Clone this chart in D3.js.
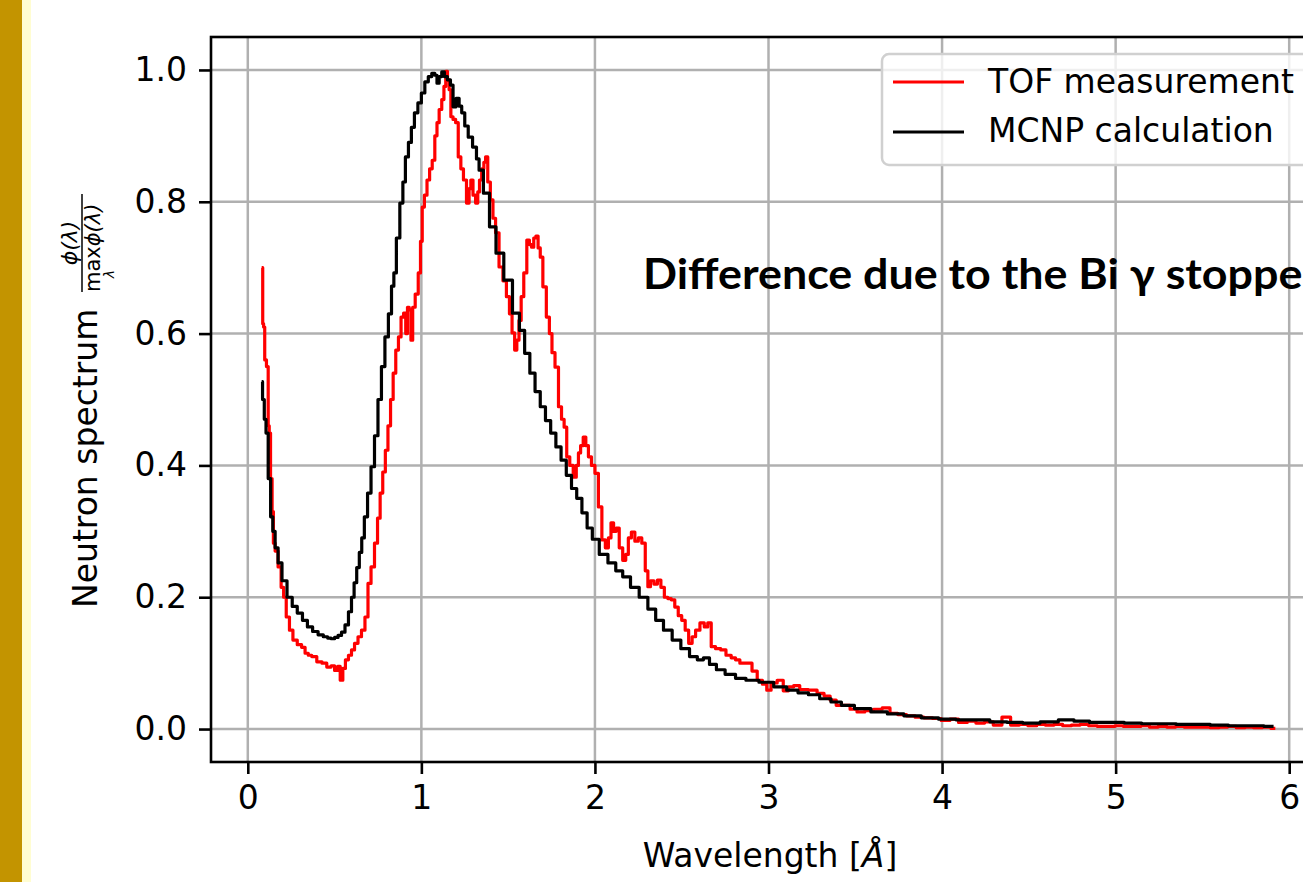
<!DOCTYPE html>
<meta charset="utf-8">
<style>
body { margin: 0; overflow: hidden; background: #fff; }
svg { display: block; font-family: 'DejaVu Sans', sans-serif; }
.grid line { stroke: #b0b0b0; stroke-width: 2.5; }
.axis text { font-family: 'DejaVu Sans', sans-serif; font-size: 33px; fill: #000; }
.axis line { stroke: #000; stroke-width: 2.6; }
.axis path { display: none; }
.series { fill: none; stroke-width: 3.2; stroke-linejoin: round; }
.lab { font-size: 33px; fill: #000; }
</style>
<body>
<div id="chart"></div>
<script src="https://cdn.jsdelivr.net/npm/d3@7"></script>
<script>
// TOF measurement (red) : wavelength [Å] and normalised spectrum
var tofLambda = [0.080,0.085,0.087,0.095,0.100,0.115,0.120,0.127,0.135,0.145,0.150,0.165,0.184,0.200,0.213,0.230,0.250,0.270,0.300,0.320,
  0.340,0.357,0.380,0.415,0.440,0.470,0.490,0.510,0.525,0.540,0.555,0.570,0.590,0.605,0.625,0.645,0.665,0.685,0.700,0.720,
  0.740,0.755,0.770,0.785,0.800,0.815,0.830,0.845,0.860,0.876,0.890,0.905,0.915,0.925,0.935,0.945,0.955,0.974,0.990,1.000,
  1.010,1.025,1.040,1.055,1.070,1.085,1.095,1.110,1.125,1.135,1.146,1.155,1.165,1.175,1.190,1.205,1.220,1.235,1.250,1.270,
  1.280,1.290,1.305,1.320,1.330,1.340,1.355,1.365,1.375,1.390,1.405,1.420,1.435,1.460,1.480,1.500,1.515,1.530,1.545,1.555,
  1.570,1.580,1.600,1.615,1.630,1.640,1.655,1.665,1.680,1.690,1.710,1.730,1.745,1.760,1.780,1.800,1.815,1.830,1.845,1.865,
  1.885,1.900,1.910,1.925,1.940,1.955,1.970,1.990,2.010,2.030,2.050,2.070,2.085,2.100,2.115,2.130,2.150,2.170,2.185,2.200,
  2.220,2.240,2.260,2.280,2.300,2.310,2.330,2.350,2.370,2.390,2.410,2.430,2.450,2.470,2.490,2.510,2.530,2.550,2.570,2.590,
  2.620,2.640,2.660,2.680,2.710,2.740,2.770,2.800,2.820,2.850,2.890,2.920,2.950,2.980,3.000,3.030,3.070,3.100,3.130,3.160,
  3.200,3.260,3.300,3.340,3.370,3.410,3.450,3.490,3.530,3.580,3.630,3.680,3.720,3.770,3.820,3.870,3.920,3.970,4.020,4.070,
  4.120,4.170,4.220,4.270,4.320,4.370,4.420,4.470,4.520,4.570,4.620,4.670,4.720,4.770,4.820,4.870,4.920,4.970,5.020,5.070,
  5.120,5.170,5.220,5.270,5.320,5.370,5.420,5.470,5.520,5.570,5.620,5.670,5.720,5.770,5.820,5.870,5.920];
var tofValue = [0.700,0.700,0.615,0.610,0.560,0.550,0.460,0.449,0.380,0.330,0.282,0.270,0.246,0.215,0.200,0.170,0.150,0.135,0.128,0.124,
  0.115,0.112,0.110,0.102,0.100,0.094,0.096,0.089,0.095,0.074,0.092,0.105,0.112,0.120,0.130,0.140,0.150,0.170,0.221,0.246,
  0.282,0.320,0.358,0.390,0.423,0.460,0.500,0.540,0.575,0.595,0.625,0.631,0.600,0.640,0.636,0.590,0.640,0.660,0.692,0.740,
  0.792,0.810,0.833,0.850,0.863,0.900,0.920,0.940,0.955,0.975,0.998,0.985,0.970,0.929,0.925,0.920,0.868,0.850,0.833,0.798,
  0.820,0.833,0.810,0.798,0.815,0.833,0.850,0.860,0.868,0.830,0.803,0.775,0.753,0.701,0.680,0.656,0.630,0.601,0.575,0.590,
  0.620,0.656,0.692,0.742,0.735,0.731,0.745,0.748,0.730,0.716,0.671,0.625,0.600,0.571,0.549,0.489,0.470,0.458,0.413,0.400,
  0.382,0.400,0.419,0.430,0.443,0.430,0.413,0.400,0.388,0.337,0.287,0.275,0.290,0.313,0.300,0.305,0.275,0.256,0.265,0.290,
  0.299,0.285,0.290,0.282,0.240,0.216,0.225,0.220,0.226,0.215,0.200,0.198,0.196,0.185,0.172,0.165,0.150,0.130,0.140,0.150,
  0.161,0.155,0.161,0.125,0.122,0.120,0.112,0.108,0.105,0.100,0.100,0.088,0.074,0.068,0.059,0.070,0.074,0.058,0.064,0.066,
  0.060,0.059,0.054,0.050,0.044,0.036,0.036,0.030,0.026,0.028,0.030,0.032,0.024,0.022,0.020,0.018,0.017,0.016,0.013,0.015,
  0.010,0.012,0.009,0.011,0.006,0.018,0.006,0.007,0.005,0.007,0.006,0.007,0.005,0.006,0.007,0.005,0.004,0.004,0.005,0.004,
  0.004,0.005,0.003,0.004,0.003,0.004,0.003,0.003,0.003,0.002,0.003,0.004,0.002,0.003,0.002,0.003,0.001];

// MCNP calculation (black)
var mcnpLambda = [0.080,0.090,0.100,0.110,0.125,0.138,0.150,0.165,0.184,0.210,0.242,0.270,0.300,0.330,0.357,0.390,0.420,0.450,0.470,0.490,
  0.510,0.530,0.550,0.570,0.590,0.605,0.620,0.635,0.650,0.663,0.680,0.700,0.720,0.740,0.760,0.780,0.800,0.820,0.836,0.847,
  0.865,0.887,0.900,0.916,0.935,0.950,0.970,0.990,1.010,1.030,1.050,1.070,1.085,1.095,1.110,1.125,1.140,1.160,1.175,1.190,
  1.210,1.225,1.240,1.260,1.280,1.310,1.325,1.340,1.375,1.410,1.450,1.500,1.550,1.580,1.610,1.640,1.670,1.700,1.730,1.760,
  1.790,1.820,1.850,1.880,1.910,1.940,1.970,2.000,2.050,2.100,2.140,2.180,2.230,2.280,2.330,2.370,2.420,2.470,2.520,2.570,
  2.610,2.640,2.680,2.720,2.780,2.840,2.900,2.990,3.070,3.140,3.200,3.260,3.330,3.390,3.450,3.540,3.640,3.730,3.830,3.930,
  4.030,4.130,4.220,4.330,4.420,4.510,4.620,4.720,4.800,4.900,5.000,5.100,5.200,5.300,5.400,5.490,5.600,5.700,5.800,5.910];
var mcnpValue = [0.527,0.500,0.470,0.449,0.380,0.322,0.300,0.275,0.252,0.225,0.200,0.186,0.176,0.165,0.155,0.148,0.143,0.140,0.138,0.137,
  0.139,0.142,0.147,0.158,0.178,0.200,0.222,0.245,0.268,0.290,0.322,0.358,0.398,0.445,0.500,0.550,0.595,0.630,0.672,0.692,
  0.745,0.798,0.830,0.868,0.890,0.913,0.935,0.950,0.965,0.982,0.990,0.995,0.992,0.980,0.990,0.997,0.990,0.985,0.977,0.944,
  0.957,0.945,0.935,0.915,0.898,0.883,0.865,0.848,0.813,0.762,0.722,0.681,0.631,0.605,0.570,0.540,0.512,0.489,0.468,0.449,
  0.428,0.408,0.385,0.365,0.350,0.328,0.305,0.288,0.265,0.252,0.240,0.231,0.215,0.200,0.182,0.165,0.150,0.135,0.122,0.110,
  0.105,0.108,0.098,0.090,0.083,0.077,0.074,0.071,0.064,0.059,0.055,0.052,0.046,0.041,0.036,0.031,0.026,0.023,0.020,0.017,
  0.015,0.014,0.014,0.011,0.010,0.009,0.011,0.014,0.012,0.010,0.010,0.009,0.008,0.008,0.007,0.007,0.006,0.005,0.005,0.004];

var xTicks = [0, 1, 2, 3, 4, 5, 6];
var yTicks = [0, 0.2, 0.4, 0.6, 0.8, 1.0];
var legendNames = ['TOF measurement', 'MCNP calculation'];
var legendColors = ['#ff0000', '#000000'];

var W = 1303, H = 882;
var pLeft = 211, pRight = 1326, pTop = 37, pBottom = 762;

var svg = d3.select('#chart').append('svg')
    .attr('width', W)
    .attr('height', H);

// slide border on the left
svg.append('rect').attr('x', 0).attr('y', 0).attr('width', 22).attr('height', H).attr('fill', '#c39400');
svg.append('rect').attr('x', 22).attr('y', 0).attr('width', 9).attr('height', H).attr('fill', '#fffdd2');

var x = d3.scaleLinear().domain([-0.212, 6.212]).range([pLeft, pRight]);
var y = d3.scaleLinear().domain([-0.05, 1.05]).range([pBottom, pTop]);

// grid
var grid = svg.append('g').attr('class', 'grid');
grid.selectAll('.gx').data(xTicks).enter().append('line')
    .attr('x1', d => x(d)).attr('x2', d => x(d)).attr('y1', pTop).attr('y2', pBottom);
grid.selectAll('.gy').data(yTicks).enter().append('line')
    .attr('x1', pLeft).attr('x2', pRight).attr('y1', d => y(d)).attr('y2', d => y(d));

svg.append('g').attr('class', 'axis')
    .attr('transform', 'translate(0,' + pBottom + ')')
    .call(d3.axisBottom(x).tickValues(xTicks).tickSize(12).tickPadding(12).tickFormat(d3.format('d')));

svg.append('g').attr('class', 'axis')
    .attr('transform', 'translate(' + pLeft + ',0)')
    .call(d3.axisLeft(y).tickValues(yTicks).tickSize(12).tickPadding(12).tickFormat(d3.format('.1f')));

// histogram-like steps, as in the binned spectra
var line = d3.line()
    .curve(d3.curveStep)
    .x(d => x(d[0]))
    .y(d => y(d[1]));

svg.append('path').attr('class', 'series')
    .datum(tofLambda.map((l, i) => [l, tofValue[i]]))
    .attr('stroke', legendColors[0])
    .attr('d', line);

svg.append('path').attr('class', 'series')
    .datum(mcnpLambda.map((l, i) => [l, mcnpValue[i]]))
    .attr('stroke', legendColors[1])
    .attr('d', line);

// frame
svg.append('rect')
    .attr('x', pLeft).attr('y', pTop)
    .attr('width', pRight - pLeft).attr('height', pBottom - pTop)
    .attr('fill', 'none').attr('stroke', '#000').attr('stroke-width', 2.6);

// legend
var lg = svg.append('g');
lg.append('rect')
    .attr('x', 882).attr('y', 54).attr('width', 427).attr('height', 111).attr('rx', 7)
    .attr('fill', 'rgba(255,255,255,0.8)').attr('stroke', '#d0d0d0').attr('stroke-width', 2.5);
legendNames.forEach(function(n, i) {
  lg.append('line')
    .attr('x1', 893).attr('x2', 964).attr('y1', 82 + i * 50).attr('y2', 82 + i * 50)
    .attr('stroke', legendColors[i]).attr('stroke-width', 3.2);
  lg.append('text').attr('class', 'lab')
    .attr('x', 988).attr('y', 93 + i * 49)
    .text(n);
});

// axis labels
var xl = svg.append('text').attr('class', 'lab')
    .attr('x', 770).attr('y', 867).attr('text-anchor', 'middle');
xl.append('tspan').text('Wavelength [');
xl.append('tspan').style('font-style', 'italic').text('Å');
xl.append('tspan').text(']');

var yl = svg.append('g').attr('transform', 'translate(97,608) rotate(-90)');
yl.append('text').attr('class', 'lab').attr('x', 0).attr('y', 0).text('Neutron spectrum');
yl.append('text').attr('x', 365).attr('y', -20).attr('text-anchor', 'middle')
    .style('font-size', '22px').style('font-style', 'italic').text('ϕ(λ)');
yl.append('line').attr('x1', 316).attr('x2', 414).attr('y1', -15).attr('y2', -15)
    .attr('stroke', '#000').attr('stroke-width', 1.5);
var den = yl.append('text').attr('x', 316).attr('y', 3).style('font-size', '21px');
den.append('tspan').text('max');
den.append('tspan').style('font-style', 'italic').text('ϕ(λ)');
yl.append('text').attr('x', 334).attr('y', 17).attr('text-anchor', 'middle')
    .style('font-size', '14px').style('font-style', 'italic').text('λ');

// annotation
svg.append('text')
    .attr('x', 643).attr('y', 289)
    .attr('textLength', 676).attr('lengthAdjust', 'spacingAndGlyphs')
    .style('font-family', 'Lato, "Open Sans", sans-serif')
    .style('font-weight', 'bold').style('font-size', '42px')
    .text('Difference due to the Bi γ stopper');
</script>
</body>
